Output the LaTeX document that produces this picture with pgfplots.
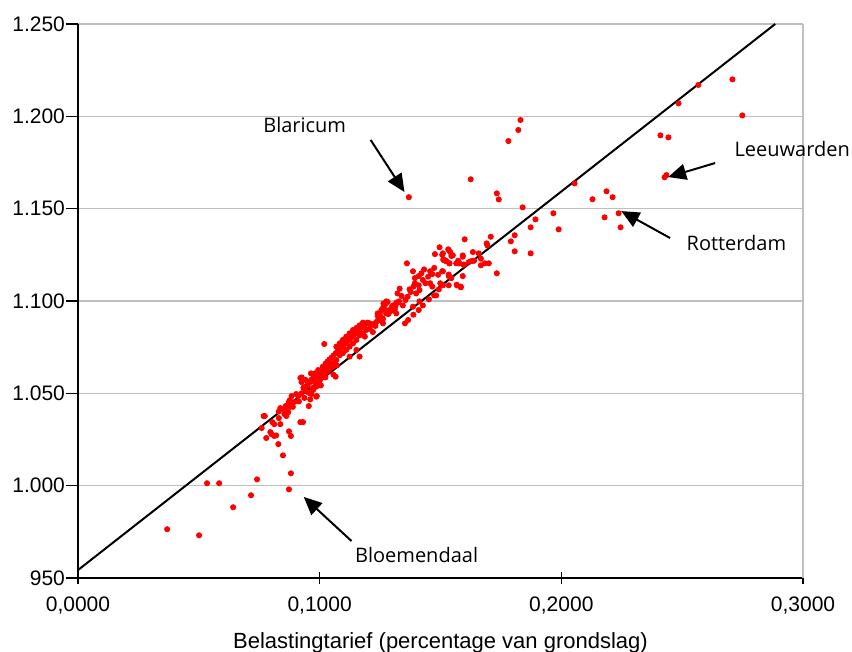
\documentclass[border=0pt]{standalone}
\usepackage{fontspec}
\setmainfont{Liberation Sans}
\newfontfamily\annfont{Open Sans}
\usepackage{pgfplots}
\pgfplotsset{compat=1.18}
\usetikzlibrary{arrows.meta}

\begin{document}
\begin{tikzpicture}
\begin{axis}[
  width=362.5pt, height=277pt, scale only axis,
  xmin=0, xmax=0.3, ymin=950, ymax=1250,
  xtick={0,0.1,0.2,0.3}, ytick={950,1000,...,1250},
  axis x line*=bottom, axis y line*=left,
  axis line style={black, line width=0.7pt},
  ymajorgrids, grid style={color=black!25, line width=0.6pt},
  tick align=center, major tick length=6pt,
  tick style={black, line width=0.6pt},
  y tick style={xshift=-3pt},
  clip mode=individual,
  ticklabel style={font=\fontsize{10.5}{12}\selectfont},
  xticklabel style={yshift=-3pt},
  /pgf/number format/assume math mode=true,
  xticklabel style={/pgf/number format/.cd, fixed, fixed zerofill, precision=4, use comma},
  yticklabel style={/pgf/number format/.cd, 1000 sep={.}},
  scaled x ticks=false,
  xlabel={Belastingtarief (percentage van grondslag)},
  xlabel style={font=\fontsize{11}{13}\selectfont, yshift=-2pt},
]
\addplot[black, line width=1pt] coordinates {(0,954.3) (0.2885,1250)};

\addplot[only marks, mark=*, mark size=1.3pt, red, mark options={draw=red, fill=red}] table {
x y
0.0369 976.4
0.0501 973.1
0.0534 1001.3
0.0584 1001.3
0.0642 988.3
0.0716 994.8
0.0741 1003.4
0.0848 1016.4
0.0881 1006.7
0.0873 998.0
0.0773 1037.7
0.0768 1037.7
0.0760 1031.2
0.0779 1025.8
0.0804 1034.4
0.0812 1033.3
0.0796 1029.0
0.0801 1027.9
0.0812 1026.9
0.0820 1027.2
0.0829 1022.5
0.0837 1033.3
0.0831 1036.6
0.0837 1042.0
0.0854 1038.8
0.0862 1037.7
0.0870 1039.8
0.0873 1045.3
0.0859 1043.1
0.0878 1042.7
0.0884 1048.5
0.0895 1045.3
0.0876 1046.3
0.0914 1045.6
0.0920 1034.4
0.0931 1034.4
0.0920 1058.3
0.0925 1056.1
0.0942 1057.2
0.0944 1053.9
0.0950 1050.7
0.0955 1043.1
0.0961 1046.7
0.0966 1049.6
0.0972 1052.9
0.0986 1055.4
0.1000 1056.8
0.1013 1059.0
0.1005 1054.3
0.1024 1058.6
0.1030 1061.5
0.1038 1063.0
0.1041 1066.6
0.1052 1065.8
0.1063 1066.9
0.1071 1065.1
0.1057 1060.1
0.1066 1059.0
0.0988 1048.5
0.0903 1049.6
0.0911 1048.5
0.0961 1056.1
0.0964 1060.8
0.0980 1060.8
0.0994 1062.6
0.1013 1064.4
0.1019 1062.6
0.0873 1029.4
0.0881 1026.9
0.0831 1040.2
0.0856 1040.9
0.0870 1043.1
0.0889 1042.7
0.0925 1050.0
0.0933 1052.9
0.0942 1051.4
0.0975 1057.2
0.0926 1058.6
0.0934 1053.2
0.0942 1052.2
0.0950 1054.3
0.0959 1056.5
0.0967 1057.6
0.0975 1059.7
0.0983 1055.4
0.0992 1058.6
0.1000 1060.8
0.1008 1061.9
0.1017 1064.1
0.1025 1066.2
0.1033 1067.3
0.1041 1068.4
0.1050 1069.5
0.1058 1070.6
0.1066 1071.7
0.1074 1072.7
0.1083 1073.8
0.1091 1074.9
0.1099 1076.0
0.1107 1077.1
0.1116 1078.2
0.1124 1079.2
0.1132 1080.3
0.1141 1081.4
0.1149 1082.5
0.1157 1083.6
0.1165 1084.7
0.1174 1085.7
0.1182 1086.8
0.1190 1087.5
0.1198 1088.3
0.1207 1087.9
0.1215 1087.2
0.1223 1087.5
0.1231 1086.5
0.1240 1091.9
0.1248 1093.3
0.1256 1095.1
0.1264 1096.9
0.1273 1098.4
0.1281 1099.5
0.1298 1096.6
0.1306 1095.1
0.1314 1097.3
0.1322 1099.1
0.1019 1076.7
0.1041 1065.2
0.1055 1066.2
0.1069 1068.0
0.1083 1070.6
0.1096 1071.7
0.1110 1073.5
0.1124 1075.3
0.1138 1077.1
0.1152 1078.9
0.1165 1081.4
0.1179 1082.5
0.1193 1084.3
0.1028 1063.4
0.1014 1059.7
0.1000 1057.2
0.0986 1053.6
0.0973 1051.8
0.1069 1075.3
0.1083 1077.1
0.1096 1078.9
0.1110 1080.7
0.1124 1082.5
0.1138 1084.3
0.1152 1085.4
0.1165 1086.8
0.1179 1088.3
0.1207 1085.0
0.1220 1083.2
0.1124 1069.9
0.1152 1073.5
0.1187 1080.7
0.1055 1064.4
0.1242 1089.7
0.1253 1091.5
0.1275 1093.3
0.1289 1095.1
0.1317 1093.3
0.1262 1087.9
0.1165 1069.9
0.0959 1050.0
0.0986 1048.2
0.0937 1047.5
0.1220 1087.2
0.1234 1088.6
0.1248 1089.7
0.1262 1090.4
0.1240 1093.3
0.1256 1095.1
0.1267 1095.8
0.1276 1099.8
0.1264 1098.7
0.1284 1092.9
0.1292 1094.4
0.1303 1097.6
0.1317 1099.1
0.1311 1095.5
0.1328 1099.8
0.1322 1104.1
0.1339 1102.7
0.1331 1106.7
0.1344 1097.6
0.1355 1100.5
0.1364 1102.3
0.1372 1106.3
0.1377 1104.9
0.1388 1107.8
0.1394 1109.6
0.1399 1104.1
0.1410 1108.5
0.1413 1105.9
0.1410 1113.5
0.1421 1115.0
0.1427 1111.4
0.1438 1109.6
0.1449 1113.2
0.1457 1109.6
0.1466 1107.8
0.1474 1103.0
0.1413 1099.8
0.1386 1096.9
0.1361 1120.4
0.1386 1116.1
0.1394 1112.4
0.1432 1117.1
0.1457 1116.1
0.1466 1114.6
0.1474 1117.9
0.1490 1114.2
0.1496 1129.1
0.1477 1125.4
0.1507 1125.1
0.1512 1122.6
0.1532 1128.0
0.1540 1126.5
0.1551 1124.7
0.1523 1121.5
0.1537 1120.4
0.1507 1116.1
0.1534 1114.3
0.1545 1112.4
0.1565 1120.4
0.1573 1121.8
0.1578 1120.4
0.1592 1124.0
0.1598 1119.7
0.1617 1121.1
0.1634 1126.5
0.1639 1121.8
0.1600 1133.4
0.1658 1125.8
0.1667 1122.9
0.1683 1120.4
0.1691 1131.2
0.1700 1120.4
0.1708 1134.8
0.1733 1115.0
0.1534 1108.5
0.1567 1108.8
0.1584 1107.8
0.1499 1109.6
0.1493 1106.3
0.1482 1103.0
0.1452 1100.9
0.1427 1097.6
0.1410 1095.1
0.1388 1092.6
0.1366 1089.7
0.1353 1087.9
0.1510 1125.8
0.1512 1122.2
0.1523 1121.8
0.1534 1127.6
0.1545 1124.4
0.1537 1120.4
0.1510 1116.1
0.1592 1124.7
0.1576 1120.4
0.1595 1119.7
0.1625 1121.5
0.1634 1121.8
0.1667 1119.3
0.1694 1130.1
0.1534 1113.5
0.1592 1113.5
0.1568 1108.5
0.1584 1107.4
0.1510 1108.5
0.1369 1156.2
0.1625 1165.9
0.1733 1158.3
0.1741 1155.0
0.1781 1186.6
0.1822 1192.6
0.1831 1198.0
0.1840 1150.7
0.1967 1147.5
0.1989 1138.8
0.2055 1163.7
0.2708 1220.0
0.2567 1217.0
0.2485 1207.0
0.2749 1200.5
0.2410 1189.7
0.2443 1188.6
0.2427 1167.0
0.2435 1168.2
0.2187 1159.4
0.2212 1156.2
0.2129 1155.1
0.2237 1147.5
0.2179 1145.3
0.2245 1139.9
0.1893 1144.2
0.1873 1139.9
0.1807 1135.6
0.1791 1132.3
0.1807 1126.9
0.1873 1125.8
};

\draw[black!25, line width=0.6pt] (rel axis cs:1,0) -- (rel axis cs:1,1);

\begin{scope}[every node/.style={font=\annfont\fontsize{10}{12}\selectfont, inner sep=0pt},
  arr/.style={line width=1pt, -{Triangle[length=9pt, width=8pt]}}]
\node at (axis cs:0.0938,1195.3) {Blaricum};
\draw[arr] (axis cs:0.1211,1187.2) -- (axis cs:0.1351,1159.0);
\node[anchor=west] at (axis cs:0.2715,1182.3) {Leeuwarden};
\draw[arr] (axis cs:0.2636,1174.7) -- (axis cs:0.2442,1167.1);
\node[anchor=west] at (axis cs:0.2517,1131.4) {Rotterdam};
\draw[arr] (axis cs:0.2450,1134.1) -- (axis cs:0.2248,1148.7);
\node[anchor=west] at (axis cs:0.1145,962.5) {Bloemendaal};
\draw[arr] (axis cs:0.1132,970.0) -- (axis cs:0.0934,993.9);
\end{scope}

\coordinate (sw) at (rel axis cs:0,0);
\end{axis}
\pgfresetboundingbox
\path[use as bounding box] ([shift={(-39pt,-37pt)}]sw) rectangle ([shift={(387pt,289pt)}]sw);
\end{tikzpicture}
\end{document}
